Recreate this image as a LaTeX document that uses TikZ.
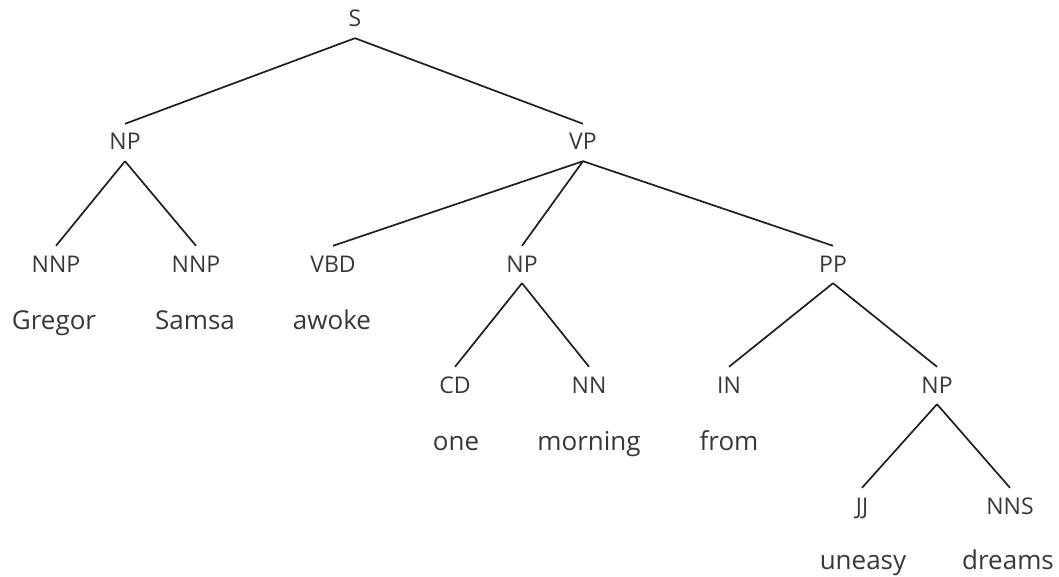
\documentclass[tikz,border=0pt]{standalone}
\usepackage{fontspec}
\setmainfont{Open Sans}
\begin{document}
\begin{tikzpicture}[x=1pt,y=-1pt,
  tag/.style={anchor=base,inner xsep=0pt,inner ysep=11pt,text height=15pt,text depth=0pt,
    font=\fontsize{23}{26}\selectfont,text=black!78},
  word/.style={anchor=base,inner sep=0pt,font=\fontsize{26}{30}\selectfont,text=black!78},
  branch/.style={draw=black!88,line width=1.7pt}]
\useasboundingbox (0,0) rectangle (1059,577);
% phrase and part-of-speech tags
\node[tag] (s)    at (355,27)  {S};
\node[tag] (np1)  at (125,150) {NP};
\node[tag] (vp)   at (583,150) {VP};
\node[tag] (nnp1) at (56,272)  {NNP};
\node[tag] (nnp2) at (196,272) {NNP};
\node[tag] (vbd)  at (333,272) {VBD};
\node[tag] (np2)  at (522,272) {NP};
\node[tag] (pp)   at (833,272) {PP};
\node[tag] (cd)   at (455,393) {CD};
\node[tag] (nn)   at (589,393) {NN};
\node[tag] (in)   at (729,393) {IN};
\node[tag] (np3)  at (937,393) {NP};
\node[tag] (jj)   at (862,514) {JJ};
\node[tag] (nns)  at (1010,514) {NNS};
% words
\node[word] (w1) at (54,329)   {Gregor};
\node[word] (w2) at (195,329)  {Samsa};
\node[word] (w3) at (332,329)  {awoke};
\node[word] (w4) at (456,450)  {one};
\node[word] (w5) at (589,450)  {morning};
\node[word] (w6) at (729,450)  {from};
\node[word] (w7) at (863,569)  {uneasy};
\node[word] (w8) at (1008,569) {dreams};
% branches
\draw[branch] (s.south) -- (np1.north);
\draw[branch] (s.south) -- (vp.north);
\draw[branch] (np1.south) -- (nnp1.north);
\draw[branch] (np1.south) -- (nnp2.north);
\draw[branch] (vp.south) -- (vbd.north);
\draw[branch] (vp.south) -- (np2.north);
\draw[branch] (vp.south) -- (pp.north);
\draw[branch] (np2.south) -- (cd.north);
\draw[branch] (np2.south) -- (nn.north);
\draw[branch] (pp.south) -- (in.north);
\draw[branch] (pp.south) -- (np3.north);
\draw[branch] (np3.south) -- (jj.north);
\draw[branch] (np3.south) -- (nns.north);
\end{tikzpicture}
\end{document}
